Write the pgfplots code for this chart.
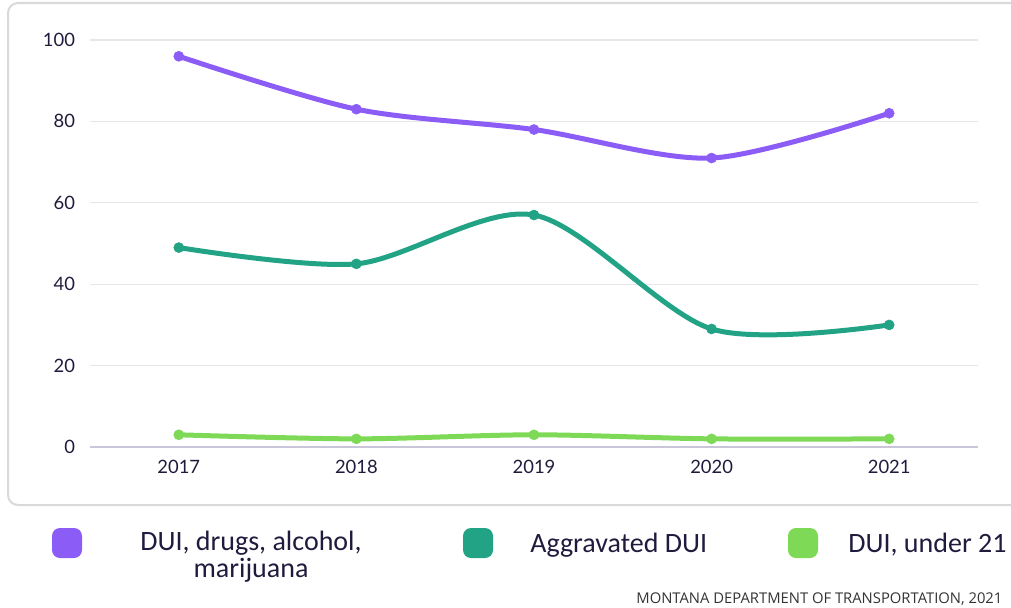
\documentclass[border=0pt]{standalone}
\usepackage{pgfplots}
\pgfplotsset{compat=1.18}
\usepackage{fontspec}
\setmainfont{Lato}
\newfontfamily\legfont{Carlito}
\newfontfamily\srcfont{Open Sans}
\definecolor{cpurple}{HTML}{8B5CF6}
\definecolor{cteal}{HTML}{22A386}
\definecolor{cgreen}{HTML}{7ED957}
\definecolor{cnavy}{HTML}{1F1B3D}
\definecolor{cgrid}{HTML}{E6E6E6}
\definecolor{caxis}{HTML}{C8C6D8}
\definecolor{cbox}{HTML}{D9D9D9}

\begin{document}
\begin{tikzpicture}[x=0.5pt,y=0.5pt]
% frame round the plot (pixel units, y measured from the bottom)
\draw[cbox, line width=1pt, rounded corners=5pt] (8,102) rectangle (1040,604);
\coordinate (O) at (90,160);

\begin{axis}[
  at={(O)}, anchor=south west,
  scale only axis, width=444pt, height=203.5pt,
  xmin=-0.5, xmax=4.5, ymin=0, ymax=100,
  axis line style={draw=none},
  tick style={draw=none},
  major tick length=0pt,
  xtick={0,1,2,3,4},
  xticklabels={2017,2018,2019,2020,2021},
  ytick={0,20,40,60,80,100},
  ymajorgrids,
  grid style={cgrid, line width=0.6pt},
  /pgf/number format/assume math mode=true,
  ticklabel style={font=\fontsize{9.2}{10}\selectfont, color=cnavy},
  yticklabel style={xshift=-4pt},
  xticklabel style={yshift=-3pt},
  clip=false,
  every axis plot/.append style={line width=2.5pt, smooth, tension=0.5,
    mark=*, mark size=2.5pt, mark options={solid, line width=0.3pt}},
]
\draw[caxis, line width=0.6pt] (axis cs:-0.5,0) -- (axis cs:4.5,0);

\addplot[cpurple] coordinates {
  (0,96) (1,83) (2,78) (3,71) (4,82)
};
\addplot[cteal] coordinates {
  (0,49) (1,45) (2,57) (3,29) (4,30)
};
\addplot[cgreen] coordinates {
  (0,3) (1,2) (2,3) (3,2) (4,2)
};
\end{axis}

% legend
\fill[cpurple, rounded corners=4pt] (52,49) rectangle (82,79);
\node[font=\legfont\fontsize{14}{13.5}\selectfont, text=cnavy, align=center] at (251,50)
  {DUI, drugs, alcohol,\\marijuana};
\fill[cteal, rounded corners=4pt] (463,49) rectangle (493,79);
\node[anchor=base west, inner sep=0pt, font=\legfont\fontsize{14}{14}\selectfont, text=cnavy]
  at (530,55) {Aggravated DUI};
\fill[cgreen, rounded corners=4pt] (788,49) rectangle (818,79);
\node[anchor=base west, inner sep=0pt, font=\legfont\fontsize{14}{14}\selectfont, text=cnavy]
  at (848,55) {DUI, under 21};

% source
\node[anchor=base west, inner sep=0pt, font=\srcfont\fontsize{7.4}{8}\selectfont, text=black!80]
  at (636,4) {MONTANA DEPARTMENT OF TRANSPORTATION, 2021};

\pgfresetboundingbox
\path[use as bounding box] (0,0) rectangle (1011,607);
\end{tikzpicture}
\end{document}
